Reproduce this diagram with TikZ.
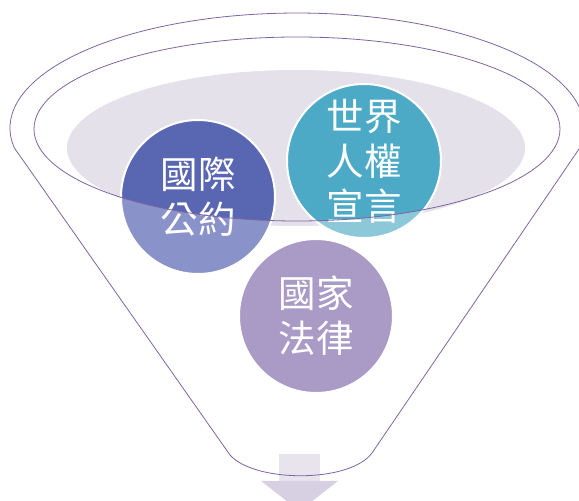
\documentclass[tikz,border=0pt]{standalone}
\usepackage{fontspec}
\newfontfamily\cjk{Noto Sans CJK TC}
\usetikzlibrary{calc}
\definecolor{funnel}{RGB}{128,100,162}
\definecolor{mist}{RGB}{228,225,234}
\definecolor{bluedark}{RGB}{89,102,178}
\definecolor{bluelight}{RGB}{138,146,202}
\definecolor{tealdark}{RGB}{77,170,198}
\definecolor{teallight}{RGB}{140,200,216}
\definecolor{lilac}{RGB}{170,154,198}
\definecolor{arrowhead}{RGB}{215,208,227}
\definecolor{arrowshaft}{RGB}{232,228,238}
\tikzset{
  ball/.style={circle, draw=white, line width=2pt, minimum size=154pt, inner sep=0pt,
    text=white, align=center, font=\cjk\fontsize{37.5}{45}\selectfont},
  tint/.style={path picture={\fill[#1] (cup) ellipse [x radius=263pt, y radius=92pt];}}
}

\begin{document}
\begin{tikzpicture}[x=1pt,y=1pt]
\useasboundingbox (0,0) rectangle (579,501);
\coordinate (cup) at (297,372);
\fill[mist] (296,353) ellipse [x radius=229, y radius=78];
\node[ball, fill=lilac] (law) at (316,185) {國家\\法律};
\node[ball, fill=bluelight, tint=bluedark] (treaty) at (198,304) {國際\\公約};
\node[ball, fill=teallight, tint=tealdark] (udhr) at (364,340) {世界\\人權\\宣言};
\fill[arrowshaft] (279,20) rectangle (320,47);
\fill[arrowhead] (261,20) -- (338,20) -- (299.5,-10) -- cycle;
\draw[funnel, line width=0.8pt] (cup) ellipse [x radius=263, y radius=92];
\draw[funnel, line width=0.8pt] (14.4,353) arc[start angle=190, end angle=-10, x radius=287, y radius=115]
  -- (372,48) .. controls (350,18) and (255,18) .. (230,46) -- cycle;
\end{tikzpicture}
\end{document}
